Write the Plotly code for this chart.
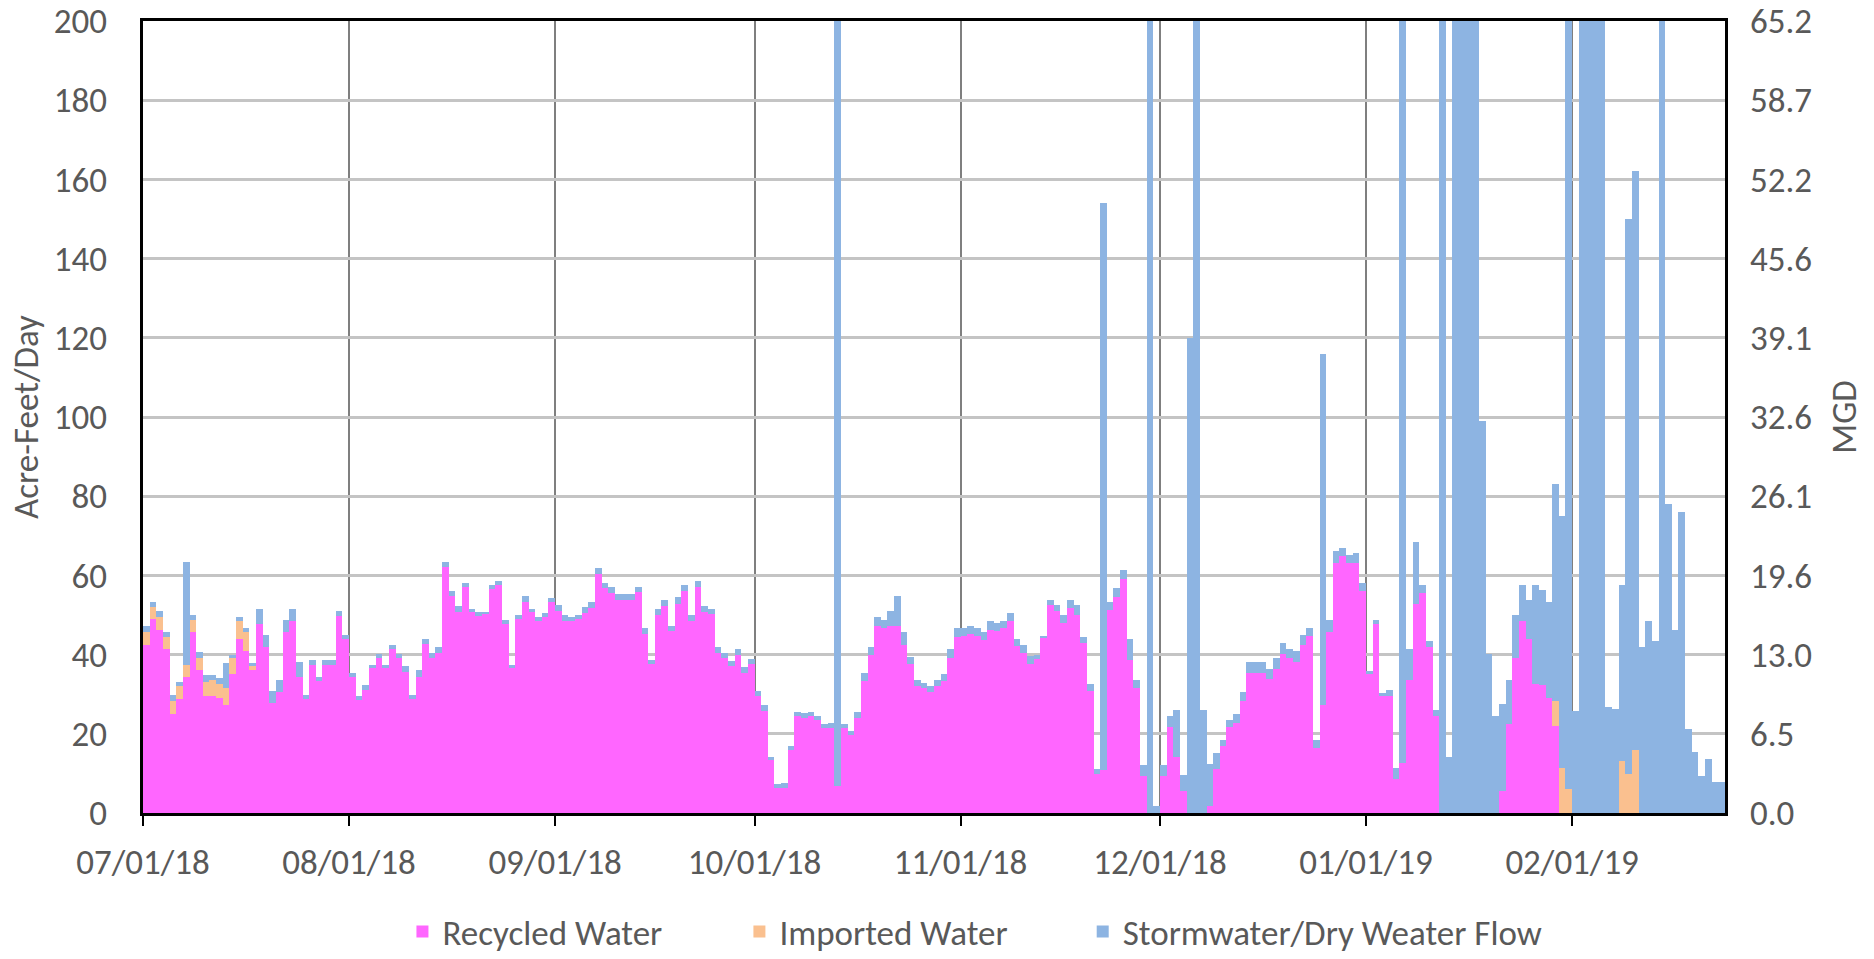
import pandas as pd
import plotly.graph_objects as go

# Daily dates (categories): 07/01/2018 .. 02/23/2019
dates = pd.date_range("2018-07-01", periods=238, freq="D")

recycled = [
    42.5, 49.0, 46.1, 41.3, 25.0, 28.9, 34.3, 45.6, 36.0, 29.5,
    29.5, 29.1, 27.4, 35.0, 44.0, 40.8, 36.0, 47.8, 41.8, 27.8,
    30.6, 45.6, 48.4, 34.3, 28.9, 37.5, 33.3, 37.5, 37.5, 49.8,
    44.0, 34.4, 28.5, 31.0, 36.5, 39.2, 36.5, 41.3, 39.2, 35.5,
    28.9, 34.4, 42.8, 39.2, 40.3, 62.0, 54.9, 50.7, 57.0, 50.7,
    49.7, 50.3, 56.6, 57.6, 47.8, 36.5, 49.0, 53.3, 50.7, 48.4,
    49.5, 53.2, 51.1, 48.6, 48.4, 49.0, 50.5, 51.8, 60.3, 56.8,
    55.5, 53.9, 53.9, 53.9, 55.8, 45.2, 37.6, 50.1, 52.2, 45.9,
    52.9, 56.0, 48.6, 57.1, 50.7, 50.3, 40.4, 39.2, 37.1, 39.8,
    35.4, 37.6, 29.5, 25.7, 13.3, 6.2, 6.2, 15.8, 24.5, 24.0,
    24.5, 23.4, 21.5, 21.5, 6.8, 21.5, 19.8, 24.0, 33.3, 39.8,
    47.3, 46.7, 47.3, 47.3, 42.5, 37.6, 32.0, 31.6, 30.5, 32.0,
    33.3, 39.2, 44.5, 44.8, 45.2, 44.8, 43.6, 46.3, 45.9, 46.6,
    48.4, 42.1, 40.4, 37.6, 39.0, 44.2, 52.6, 51.1, 48.0, 51.8,
    50.1, 42.9, 30.9, 9.9, 10.8, 51.3, 54.5, 59.1, 38.7, 31.6,
    9.3, 0.0, 0.0, 9.3, 21.8, 14.2, 5.5, 0.0, 0.0, 0.0,
    1.8, 11.0, 16.9, 21.8, 22.8, 28.2, 35.4, 35.4, 35.4, 33.9,
    36.4, 40.2, 39.2, 38.2, 42.5, 44.6, 16.5, 27.2, 45.6, 63.1,
    64.8, 63.1, 63.1, 56.0, 35.0, 47.8, 29.5, 29.5, 8.7, 12.7,
    33.7, 52.8, 55.5, 41.8, 24.5, 0.0, 0.0, 0.0, 0.0, 0.0,
    0.0, 0.0, 0.0, 0.0, 5.5, 22.4, 39.2, 48.4, 44.0, 32.6,
    32.2, 29.1, 21.9, 0.0, 0.0, 0.0, 0.0, 0.0, 0.0, 0.0,
    0.0, 0.0, 0.0, 0.0, 0.0, 0.0, 0.0, 0.0, 0.0, 0.0,
    0.0, 0.0, 0.0, 0.0, 0.0, 0.0, 0.0, 0.0,
]

imported = [
    3.1, 3.0, 3.3, 3.2, 3.2, 3.1, 3.2, 3.2, 3.2, 3.6,
    4.2, 3.6, 4.2, 4.2, 4.4, 4.8, 1.1, 0, 0, 0,
    0, 0, 0, 0, 0, 0, 0, 0, 0, 0,
    0, 0, 0, 0, 0, 0, 0, 0, 0, 0,
    0, 0, 0, 0, 0, 0, 0, 0, 0, 0,
    0, 0, 0, 0, 0, 0, 0, 0, 0, 0,
    0, 0, 0, 0, 0, 0, 0, 0, 0, 0,
    0, 0, 0, 0, 0, 0, 0, 0, 0, 0,
    0, 0, 0, 0, 0, 0, 0, 0, 0, 0,
    0, 0, 0, 0, 0, 0, 0, 0, 0, 0,
    0, 0, 0, 0, 0, 0, 0, 0, 0, 0,
    0, 0, 0, 0, 0, 0, 0, 0, 0, 0,
    0, 0, 0, 0, 0, 0, 0, 0, 0, 0,
    0, 0, 0, 0, 0, 0, 0, 0, 0, 0,
    0, 0, 0, 0, 0, 0, 0, 0, 0, 0,
    0, 0, 0, 0, 0, 0, 0, 0, 0, 0,
    0, 0, 0, 0, 0, 0, 0, 0, 0, 0,
    0, 0, 0, 0, 0, 0, 0, 0, 0, 0,
    0, 0, 0, 0, 0, 0, 0, 0, 0, 0,
    0, 0, 0, 0, 0, 0, 0, 0, 0, 0,
    0, 0, 0, 0, 0, 0, 0, 0, 0, 0,
    0, 0, 6.3, 11.4, 6.0, 0, 0, 0, 0, 0,
    0, 0, 13.1, 9.9, 15.8, 0, 0, 0, 0, 0,
    0, 0, 0, 0, 0, 0, 0, 0,
]

stormwater = [
    1.5, 1.2, 1.7, 1.2, 1.5, 1.1, 25.9, 1.1, 1.5, 1.7,
    1.1, 1.4, 6.3, 0.8, 1.0, 1.1, 0.8, 3.7, 3.2, 3.1,
    2.9, 3.2, 3.1, 3.8, 0.8, 1.1, 1.0, 1.1, 1.1, 1.1,
    0.9, 0.9, 1.0, 1.2, 1.0, 1.0, 1.0, 1.1, 1.0, 1.6,
    1.0, 1.6, 1.2, 1.1, 1.5, 1.5, 1.1, 1.5, 1.1, 0.9,
    1.0, 0.4, 1.0, 1.1, 1.0, 1.0, 0.9, 1.6, 0.9, 1.0,
    1.0, 1.1, 1.5, 1.3, 1.0, 0.9, 1.4, 1.5, 1.5, 1.3,
    1.5, 1.5, 1.5, 1.5, 1.2, 1.5, 1.1, 1.5, 1.7, 1.4,
    1.6, 1.6, 1.3, 1.6, 1.5, 1.3, 1.5, 1.1, 1.4, 1.5,
    1.4, 1.4, 1.4, 1.5, 0.9, 1.0, 1.4, 1.1, 1.0, 1.3,
    1.0, 1.1, 1.0, 1.3, 210.0, 0.9, 1.0, 1.5, 2.1, 2.0,
    2.1, 2.1, 3.8, 7.6, 3.1, 1.8, 1.7, 1.3, 1.5, 1.5,
    1.9, 2.1, 2.1, 1.8, 1.9, 1.8, 2.0, 2.1, 2.1, 1.8,
    2.1, 1.8, 2.0, 2.0, 1.0, 0.3, 1.1, 1.5, 1.9, 1.9,
    2.5, 1.6, 1.7, 1.1, 143.2, 1.9, 2.3, 2.2, 5.2, 2.1,
    2.7, 210.0, 1.7, 2.7, 2.8, 11.8, 4.2, 120.0, 210.0, 26.0,
    10.7, 4.2, 1.5, 1.6, 2.3, 2.3, 2.7, 2.7, 2.7, 2.5,
    2.8, 2.7, 2.1, 2.6, 2.5, 2.1, 1.9, 88.6, 3.2, 3.1,
    2.1, 2.1, 2.5, 2.1, 0.8, 1.0, 0.8, 1.5, 2.7, 210.0,
    7.6, 15.6, 2.1, 1.7, 1.5, 210.0, 14.2, 210.0, 210.0, 210.0,
    210.0, 99.0, 40.2, 24.6, 22.1, 11.3, 10.9, 9.2, 9.9, 25.0,
    24.2, 24.1, 54.8, 63.6, 210.0, 25.7, 210.0, 210.0, 210.0, 210.0,
    26.7, 26.3, 44.5, 140.1, 146.2, 41.8, 48.4, 43.5, 210.0, 78.0,
    46.1, 76.0, 21.3, 15.4, 9.3, 13.7, 7.8, 7.8,
]

series_names = ["Recycled Water", "Imported Water", "Stormwater/Dry Weater Flow"]
series_colors = ["#FF66FF", "#FAC08F", "#8DB4E2"]

left_ticks = [0, 20, 40, 60, 80, 100, 120, 140, 160, 180, 200]
right_tick_labels = ["0.0", "6.5", "13.0", "19.6", "26.1", "32.6", "39.1",
                     "45.6", "52.2", "58.7", "65.2"]
month_ticks = pd.date_range("2018-07-01", "2019-02-01", freq="MS")
left_title = "Acre-Feet/Day"
right_title = "MGD"

FONT = "Carlito, Calibri, Lato, sans-serif"
GRAY = "#595959"
FS = 35

xpos = dates + pd.Timedelta(hours=12)
DAY_MS = 86400000

legend_ids = ["legend", "legend2", "legend3"]
legend_x = [0.164, 0.377, 0.594]

fig = go.Figure()
for name, vals, col, lg in zip(series_names, [recycled, imported, stormwater],
                               series_colors, legend_ids):
    fig.add_trace(go.Bar(
        x=xpos, y=vals, name=name, width=DAY_MS, legend=lg,
        marker=dict(color=col, line=dict(width=0)),
    ))

# invisible trace to carry the secondary (MGD) axis
fig.add_trace(go.Scatter(x=[xpos[0]], y=[0], yaxis="y2", mode="markers",
                         marker=dict(opacity=0), showlegend=False, hoverinfo="skip"))

legend_style = dict(orientation="h", xanchor="left", y=-0.150, yanchor="middle",
                    font=dict(size=FS, color=GRAY), bgcolor="rgba(0,0,0,0)")

fig.update_layout(
    width=1874, height=959,
    barmode="stack", bargap=0,
    paper_bgcolor="white", plot_bgcolor="white",
    margin=dict(l=143, r=149, t=21, b=146, autoexpand=False),
    font=dict(family=FONT, color=GRAY, size=FS),
    legend=dict(x=legend_x[0], **legend_style),
    legend2=dict(x=legend_x[1], **legend_style),
    legend3=dict(x=legend_x[2], **legend_style),
    xaxis=dict(
        type="date", automargin=False,
        range=[pd.Timestamp("2018-07-01"), pd.Timestamp("2019-02-24")],
        tickvals=month_ticks, tickformat="%m/%d/%y",
        ticks="outside", ticklen=10, tickwidth=2, tickcolor="black",
        ticklabelstandoff=6, ticklabeloverflow="allow",
        showgrid=True, gridcolor="#7F7F7F", gridwidth=2,
        showline=True, linecolor="black", linewidth=3, mirror=True,
        tickfont=dict(size=FS, color=GRAY),
    ),
    yaxis=dict(
        range=[0, 200], tickvals=left_ticks, automargin=False,
        showgrid=True, gridcolor="#C4C4C4", gridwidth=3, zeroline=False,
        showline=True, linecolor="black", linewidth=3, mirror=True,
        ticks="", ticklabelstandoff=26, ticklabeloverflow="allow",
        tickfont=dict(size=FS, color=GRAY),
    ),
    yaxis2=dict(
        overlaying="y", side="right", range=[0, 200], automargin=False,
        tickvals=left_ticks, ticktext=right_tick_labels,
        showgrid=False, zeroline=False, ticks="", ticklabelstandoff=24,
        ticklabeloverflow="allow",
        tickfont=dict(size=FS, color=GRAY),
        title=dict(text=right_title, font=dict(size=FS, color=GRAY), standoff=20),
    ),
    annotations=[dict(
        text=left_title, textangle=-90, showarrow=False,
        xref="paper", yref="paper", x=-0.074, y=0.5,
        xanchor="center", yanchor="middle",
        font=dict(size=FS, color=GRAY, family=FONT),
    )],
)

# remove the default page margin so the figure fills the window exactly
fig.write_html("out.html", config={"displayModeBar": False},
               post_script="document.body.style.margin='0';")
